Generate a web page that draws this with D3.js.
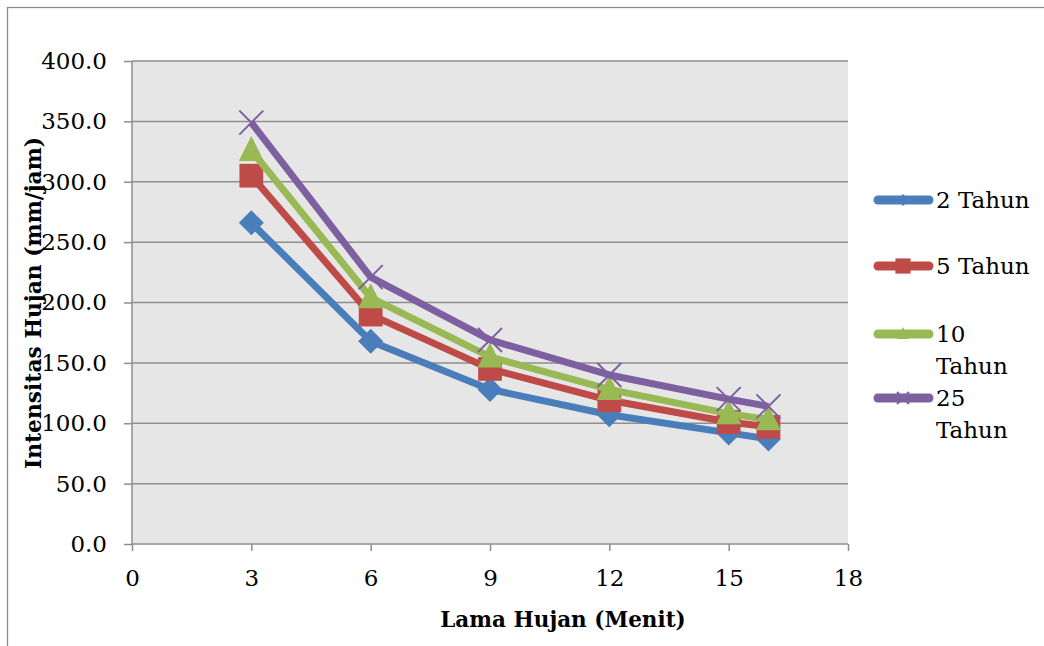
<!DOCTYPE html>
<html>
<head>
<meta charset="utf-8">
<script src="https://cdn.jsdelivr.net/npm/d3@7"></script>
<style>
  body { margin: 0; background: #fff; }
  text { font-family: "DejaVu Serif", "Liberation Serif", serif; fill: #000; }
</style>
</head>
<body>
<svg id="chart"></svg>
<script>
const width = 1044;
const height = 646;

// lama hujan (menit)
const durations = [3, 6, 9, 12, 15, 16];
// intensitas hujan (mm/jam) per periode ulang
const tahun2 = [266, 168, 128, 107, 92, 87];
const tahun5 = [305, 190, 145, 119, 101, 97];
const tahun10 = [326, 204, 155, 128, 108, 103];
const tahun25 = [349, 221, 169, 140, 120, 114];
const seriesNames = ["2 Tahun", "5 Tahun", "10 Tahun", "25 Tahun"];
const legendLines = [["2 Tahun"], ["5 Tahun"], ["10", "Tahun"], ["25", "Tahun"]];
const xTicks = [0, 3, 6, 9, 12, 15, 18];
const yTicks = [0, 50, 100, 150, 200, 250, 300, 350, 400];

const colors = ["#4a7ebb", "#be4b48", "#98b954", "#7d60a0"];
const shapes = ["diamond", "square", "triangle", "cross"];

const plot = {left: 132, right: 848, top: 61, bottom: 544};

const svg = d3.select('#chart').attr('width', width).attr('height', height);

// outer chart frame (runs off the right/bottom edge)
svg.append('rect')
    .attr('x', 7.5).attr('y', 7.5)
    .attr('width', 1100).attr('height', 700)
    .attr('fill', '#fff').attr('stroke', '#8c8c8c').attr('stroke-width', 1.3);

const x = d3.scaleLinear().domain([0, 18]).range([plot.left, plot.right]);
const y = d3.scaleLinear().domain([0, 400]).range([plot.bottom, plot.top]);

svg.append('rect')
    .attr('x', plot.left).attr('y', plot.top)
    .attr('width', plot.right - plot.left).attr('height', plot.bottom - plot.top)
    .attr('fill', '#e6e6e6');

// horizontal gridlines
svg.append('g').selectAll('line')
    .data(yTicks.filter(d => d > 0))
    .join('line')
    .attr('x1', plot.left).attr('x2', plot.right)
    .attr('y1', d => y(d)).attr('y2', d => y(d))
    .attr('stroke', '#8e8e8e').attr('stroke-width', 1.5);

const yAxis = svg.append('g')
    .attr('transform', `translate(${plot.left},0)`)
    .call(d3.axisLeft(y).tickValues(yTicks).tickFormat(d3.format('.1f')).tickSize(8).tickPadding(17));
const xAxis = svg.append('g')
    .attr('transform', `translate(0,${plot.bottom})`)
    .call(d3.axisBottom(x).tickValues(xTicks).tickSize(7).tickPadding(19));

[yAxis, xAxis].forEach(ax => {
    ax.select('.domain').attr('stroke', '#8e8e8e').attr('stroke-width', 1.5);
    ax.selectAll('.tick line').attr('stroke', '#8e8e8e').attr('stroke-width', 1.5);
    ax.selectAll('.tick text').style('font-family', '"DejaVu Serif", serif').style('font-size', '23px').attr('fill', '#000');
});
// excel-style axes: no outer tick overhang
yAxis.select('.domain').attr('d', `M0,${plot.top}V${plot.bottom}`);
xAxis.select('.domain').attr('d', `M${plot.left},0H${plot.right}`);

svg.append('text')
    .attr('x', 563).attr('y', 627)
    .attr('text-anchor', 'middle')
    .style('font-weight', 'bold').style('font-size', '21.5px')
    .text('Lama Hujan (Menit)');

svg.append('text')
    .attr('transform', `translate(41,303) rotate(-90)`)
    .attr('text-anchor', 'middle')
    .style('font-weight', 'bold').style('font-size', '21.8px')
    .text('Intensitas Hujan (mm/jam)');

function marker(sel, shape, color, s) {
    if (shape === 'cross') {
        sel.append('path')
            .attr('d', `M${-s},${-s}L${s},${s}M${-s},${s}L${s},${-s}`)
            .attr('stroke', color).attr('stroke-width', 2).attr('fill', 'none');
    } else if (shape === 'diamond') {
        sel.append('path').attr('d', `M0,${-s}L${s},0L0,${s}L${-s},0Z`).attr('fill', color);
    } else if (shape === 'square') {
        sel.append('rect').attr('x', -s * 0.95).attr('y', -s * 0.95)
            .attr('width', s * 1.9).attr('height', s * 1.9).attr('fill', color);
    } else {
        sel.append('path').attr('d', `M0,${-s * 1.15}L${s},${s * 0.85}L${-s},${s * 0.85}Z`).attr('fill', color);
    }
}

const allSeries = [tahun2, tahun5, tahun10, tahun25];
const line = d3.line().x((d, i) => x(durations[i])).y(d => y(d));

allSeries.forEach((vals, k) => {
    const g = svg.append('g').attr('class', 'series');
    g.append('path')
        .attr('d', line(vals))
        .attr('fill', 'none')
        .attr('stroke', colors[k])
        .attr('stroke-width', 7)
        .attr('stroke-linejoin', 'round');
    vals.forEach((v, i) => {
        const m = g.append('g').attr('transform', `translate(${x(durations[i])},${y(v)})`);
        marker(m, shapes[k], colors[k], k === 3 ? 12 : 12.5);
    });
});

// legend
const legendY = [200, 266, 334, 398];
const legend = svg.append('g');
legendLines.forEach((lines, k) => {
    const g = legend.append('g').attr('transform', `translate(0,${legendY[k]})`);
    g.append('line')
        .attr('x1', 878).attr('x2', 929)
        .attr('stroke', colors[k]).attr('stroke-width', 9).attr('stroke-linecap', 'round');
    const m = g.append('g').attr('transform', 'translate(903,0)');
    marker(m, shapes[k], colors[k], k === 1 ? 8 : 6);
    g.selectAll('text')
        .data(lines)
        .join('text')
        .attr('x', 936).attr('y', (d, i) => 8 + i * 32)
        .style('font-size', '23px')
        .text(d => d);
});
</script>
</body>
</html>
